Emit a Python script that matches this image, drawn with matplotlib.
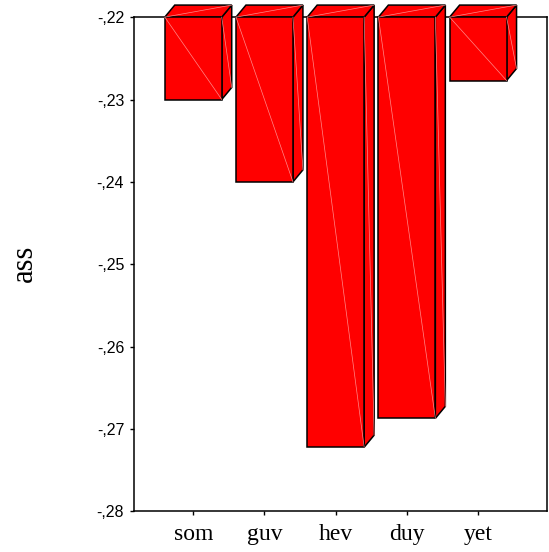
import matplotlib
matplotlib.use("Agg")
import matplotlib.pyplot as plt
from matplotlib.patches import Polygon
from matplotlib.ticker import FuncFormatter

categories = ["som", "guv", "hev", "duy", "yet"]
values = [-0.2300, -0.2400, -0.2722, -0.2687, -0.2277]
y_ticks = [-0.22, -0.23, -0.24, -0.25, -0.26, -0.27, -0.28]

BASE = -0.22
BAR_W = 0.8
DX = 0.14      # depth offset, x (data units)
DY = 0.00146   # depth offset, y (data units)
RED = "#ff0000"
HILITE = "#ff8a8a"

fig = plt.figure(figsize=(5.49, 5.52), dpi=100)
ax = fig.add_axes([0.244, 0.0734, 0.752, 0.8956])


def draw_bar(ax, x, v):
    l, r = x - BAR_W / 2, x + BAR_W / 2
    front = [(l, BASE), (r, BASE), (r, v), (l, v)]
    side = [(r, BASE), (r + DX, BASE + DY), (r + DX, v + DY), (r, v)]
    top = [(l, BASE), (l + DX, BASE + DY), (r + DX, BASE + DY), (r, BASE)]
    for pts in (side, top, front):
        ax.add_patch(Polygon(pts, closed=True, facecolor=RED, edgecolor="black",
                             linewidth=1.1, clip_on=False, zorder=3, joinstyle="miter"))
    # faint tessellation lines on each face
    kw = dict(color=HILITE, linewidth=0.5, clip_on=False, zorder=4)
    ax.plot([l, r], [BASE, v], **kw)
    ax.plot([r, r + DX], [BASE, v + DY], **kw)
    ax.plot([l, r + DX], [BASE, BASE + DY], **kw)


xs = list(range(len(categories)))
for x, v in zip(xs, values):
    draw_bar(ax, x, v)

ax.set_xlim(-0.833, 4.965)
ax.set_ylim(-0.28, -0.22)
ax.set_yticks(y_ticks)
ax.yaxis.set_major_formatter(FuncFormatter(lambda v, p: "-," + f"{abs(v):.2f}"[2:]))
ax.set_xticks(xs)
ax.set_xticklabels(categories, fontfamily="Liberation Serif", fontsize=17)
for lab in ax.get_yticklabels():
    lab.set_fontfamily("Liberation Sans")
    lab.set_fontsize(11.5)

ax.tick_params(axis="both", direction="out", length=3, width=1, color="black")
ax.tick_params(axis="y", pad=4)
ax.tick_params(axis="x", pad=6)
for s in ax.spines.values():
    s.set_linewidth(1.1)
    s.set_color("black")

fig.text(24.6 / 549, 1 - 263 / 552, "ass", rotation=90, ha="center", va="center",
         fontfamily="Liberation Serif", fontsize=22)

fig.savefig("out.png", dpi=100)
